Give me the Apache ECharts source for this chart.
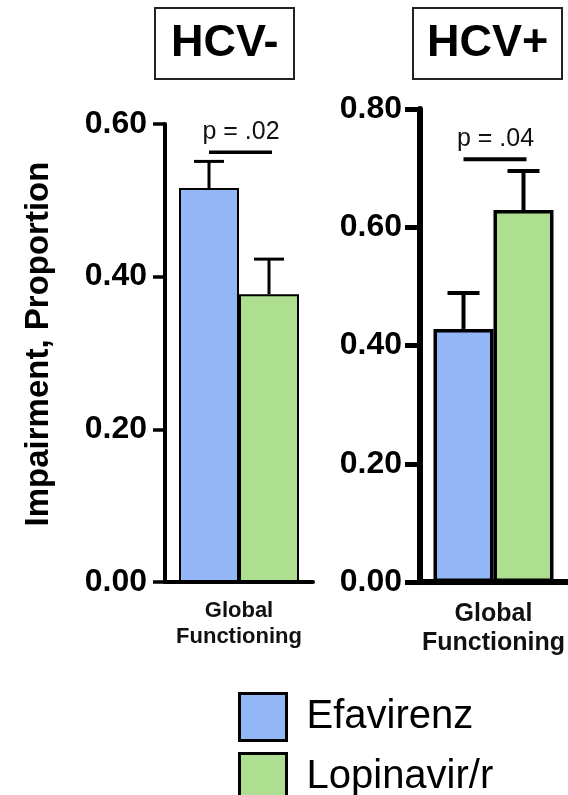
<!DOCTYPE html>
<html>
<head>
<meta charset="utf-8">
<script src="https://cdn.jsdelivr.net/npm/echarts@6/dist/echarts.min.js"></script>
<style>
  html, body { margin: 0; padding: 0; background: #fff; }
  #chart { width: 568px; height: 795px; }
</style>
</head>
<body>
<div id="chart"></div>
<script>
// Impairment proportion by regimen, split by HCV status
const panels = ['HCV-', 'HCV+'];
const categories = ['Global\nFunctioning'];
const seriesNames = ['Efavirenz', 'Lopinavir/r'];
const efavirenz = [0.516, 0.428];
const efavirenzErr = [0.035, 0.061];
const lopinavir = [0.377, 0.629];
const lopinavirErr = [0.046, 0.066];
const pLabels = ['p = .02', 'p = .04'];
const pLevels = [0.563, 0.715];
const yMax = [0.6, 0.8];
const yStep = 0.2;

const FONT = '"Liberation Sans", Arial, Helvetica, sans-serif';
const COLORS = ['#92B6F6', '#AEDF90'];
const BAR_W = 60;

// the HCV+ panel is drawn with heavier strokes
const panelStyle = [
  { grid: { left: 165, top: 124, width: 148, height: 458 }, axisW: 4, tickW: 3.5, tickLen: 12,
    barBorder: 2, errW: 3, capHalf: 15, bracketW: 3.5, labelSize: 22, labelLH: 26, labelMargin: 16 },
  { grid: { left: 420, top: 109, width: 154, height: 473 }, axisW: 6, tickW: 5, tickLen: 15,
    barBorder: 3.5, errW: 4, capHalf: 16, bracketW: 4, labelSize: 25, labelLH: 29, labelMargin: 18 }
];

function bars(p) {
  const st = panelStyle[p];
  return [efavirenz, lopinavir].map((vals, i) => ({
    type: 'bar',
    name: seriesNames[i],
    xAxisIndex: p,
    yAxisIndex: p,
    data: [vals[p]],
    barWidth: BAR_W,
    barGap: '0%',
    silent: true,
    itemStyle: { color: COLORS[i], borderColor: '#000', borderWidth: st.barBorder }
  }));
}

function errorBars(p) {
  const st = panelStyle[p];
  return {
    type: 'custom',
    xAxisIndex: p,
    yAxisIndex: p,
    silent: true,
    z: 3,
    encode: { x: 0, y: 2 },
    data: [
      [0, 0, efavirenz[p], efavirenzErr[p]],
      [0, 1, lopinavir[p], lopinavirErr[p]]
    ],
    renderItem(params, api) {
      const base = api.coord([api.value(0), api.value(2)]);
      const top = api.coord([api.value(0), api.value(2) + api.value(3)]);
      const x = base[0] + (api.value(1) === 0 ? -BAR_W / 2 : BAR_W / 2);
      const style = { stroke: '#000', lineWidth: st.errW };
      return {
        type: 'group',
        children: [
          { type: 'line', shape: { x1: x, y1: base[1], x2: x, y2: top[1] }, style },
          { type: 'line', shape: { x1: x - st.capHalf, y1: top[1], x2: x + st.capHalf, y2: top[1] }, style }
        ]
      };
    }
  };
}

function bracket(p) {
  const st = panelStyle[p];
  return {
    type: 'custom',
    xAxisIndex: p,
    yAxisIndex: p,
    silent: true,
    z: 3,
    encode: { x: 0, y: 1 },
    data: [[0, pLevels[p]]],
    renderItem(params, api) {
      const c = api.coord([api.value(0), api.value(1)]);
      return {
        type: 'group',
        children: [
          { type: 'line',
            shape: { x1: c[0] - BAR_W / 2, y1: c[1], x2: c[0] + BAR_W / 2 + 3, y2: c[1] },
            style: { stroke: '#000', lineWidth: st.bracketW } },
          { type: 'text', x: c[0] + 2, y: c[1] - 8,
            style: { text: pLabels[p], fill: '#111', fontSize: 25, fontFamily: FONT,
                     align: 'center', verticalAlign: 'bottom' } }
        ]
      };
    }
  };
}

const chart = echarts.init(document.getElementById('chart'), null, { renderer: 'canvas' });

// one legend block per regimen, stacked
const legendTops = [687, 747];

chart.setOption({
  animation: false,
  backgroundColor: '#fff',
  title: panels.map((t, p) => ({
    text: t,
    left: [155, 413][p],
    top: 8,
    borderColor: '#222',
    borderWidth: 2,
    padding: [13, [16, 14][p]],
    textStyle: { fontSize: 45, fontWeight: 'bold', fontFamily: FONT, color: '#000', lineHeight: 45 }
  })),
  legend: seriesNames.map((name, i) => ({
    data: [name],
    left: 233,
    top: legendTops[i],
    itemWidth: 47,
    itemHeight: 47,
    icon: 'rect',
    selectedMode: false,
    itemStyle: { borderColor: '#000', borderWidth: 3 },
    textStyle: { fontSize: 40, fontFamily: FONT, color: '#000', padding: [0, 0, 0, 15] }
  })),
  grid: panelStyle.map(st => Object.assign({ containLabel: false }, st.grid)),
  xAxis: panelStyle.map((st, p) => ({
    type: 'category',
    gridIndex: p,
    data: categories,
    axisLine: { lineStyle: { color: '#000', width: st.axisW } },
    axisTick: { show: false },
    axisLabel: { interval: 0, fontSize: st.labelSize, fontWeight: 'bold', lineHeight: st.labelLH,
                 color: '#111', fontFamily: FONT, margin: st.labelMargin }
  })),
  yAxis: panelStyle.map((st, p) => ({
    type: 'value',
    gridIndex: p,
    min: 0,
    max: yMax[p],
    interval: yStep,
    axisLine: { show: true, lineStyle: { color: '#000', width: st.axisW } },
    axisTick: { show: true, length: st.tickLen, lineStyle: { color: '#000', width: st.tickW } },
    axisLabel: { formatter: v => v.toFixed(2), fontSize: 32, fontWeight: 'bold', color: '#000',
                 fontFamily: FONT, margin: 18 },
    splitLine: { show: false },
    name: p === 0 ? 'Impairment, Proportion' : '',
    nameLocation: 'middle',
    nameRotate: 90,
    nameGap: 110,
    nameTextStyle: { fontSize: 33, fontWeight: 'bold', color: '#000', fontFamily: FONT,
                     padding: [0, 0, 0, 18] }
  })),
  series: [
    ...bars(0), errorBars(0), bracket(0),
    ...bars(1), errorBars(1), bracket(1)
  ]
});
</script>
</body>
</html>
